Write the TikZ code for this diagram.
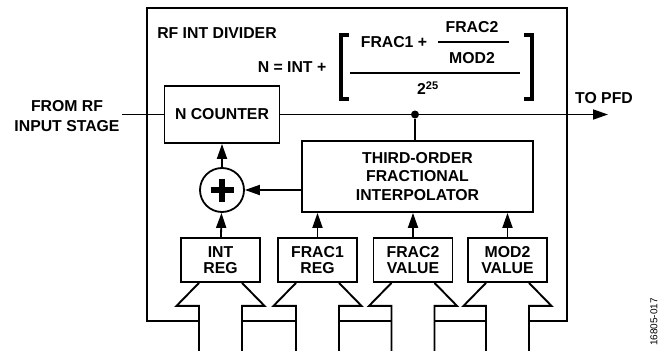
\documentclass[tikz,border=0pt]{standalone}
\usepackage{fontspec}
\setmainfont{Liberation Sans}
\usetikzlibrary{arrows.meta}
\tikzset{
every picture/.style={line width=1.8pt, >={Triangle[length=15pt,width=10pt]},
                       x=1pt, y=-1pt},
%%%%%%%%%%  Node styles
block/.style={draw, line width=1.8pt, inner sep=0pt, align=center,
              font=\bfseries\fontsize{15.8}{18.5}\selectfont},
regblock/.style={block, minimum width=79pt, minimum height=44pt,
                 font=\bfseries\fontsize{15.8}{15.3}\selectfont},
sumnode/.style={circle, draw, line width=1.8pt, minimum size=44pt, inner sep=0pt},
dotnode/.style={fill=black, circle, minimum size=8pt, inner sep=0pt},
txt/.style={inner sep=0pt, align=center,
            font=\bfseries\fontsize{15.8}{19.5}\selectfont},
%%%% different line styles:
outerframe/.style={line width=2.8pt},
bus/.style={line width=1.9pt, line join=miter},
bracket/.style={line width=3.6pt},
fracline/.style={line width=2.2pt}
}

\begin{document}
\begin{tikzpicture}
\useasboundingbox (0,0) rectangle (665,351);
%% outer frame, broken by the register buses
\draw[outerframe] (199,321) -- (147,321) -- (147,8) -- (567,8) -- (567,321) -- (529,321);
\foreach \a/\b in {242/296, 339/391.5, 434.5/486}
  \draw[outerframe] (\a,321) -- (\b,321);
\node[txt] (title) at (217,33) {RF INT DIVIDER};
%% formula
\node[txt] (neq) at (292,67) {N = INT +};
\draw[bracket] (349,35) -- (341,35) -- (341,99) -- (349,99);
\draw[bracket] (524,35) -- (532,35) -- (532,99) -- (524,99);
\node[txt] (frac1) at (394,42) {FRAC1 +};
\node[txt] (frac2) at (472,27) {FRAC2};
\draw[fracline] (438,42) -- (509,42);
\node[txt] (mod2) at (472,58) {MOD2};
\draw[fracline] (350,73) -- (520,73);
\node[txt] (pow) at (428,88) {2\textsuperscript{25}};
%% blocks
\node[block, minimum width=115pt, minimum height=57pt] (ncounter) at (222,114.5) {N COUNTER};
\node[block, minimum width=231pt, minimum height=71pt] (interp) at (417.5,176.5)
  {THIRD-ORDER\\FRACTIONAL\\INTERPOLATOR};
\node[sumnode] (adder) at (222,190) {};
\draw[line width=6pt] (adder) +(-11.5,0) -- +(11.5,0) +(0,-11.5) -- +(0,11.5);
\node[regblock] (intreg) at (220.5,260) {INT\\REG};
\node[regblock] (frac1reg) at (317.5,260) {FRAC1\\REG};
\node[regblock] (frac2val) at (413,260) {FRAC2\\VALUE};
\node[regblock] (mod2val) at (507.5,260) {MOD2\\VALUE};
\node[dotnode] (dot) at (415,114.5) {};
%% signal path
\node[txt] (rftext) at (67,116) {FROM RF\\INPUT STAGE};
\node[txt] (pfdtext) at (604,98) {TO PFD};
\coordinate (rfin) at (122,114.5);
\coordinate (pfd) at (608,114.5);
\draw (rfin) -- (ncounter.west);
\draw[->] (ncounter.east) -- (pfd);
\draw (dot) -- (dot |- interp.north);
\draw[->] (interp.west |- adder) -- (adder.east);
\draw[->] (adder) -- (ncounter);
\draw[->] (intreg) -- (adder);
\foreach \n in {frac1reg, frac2val, mod2val}
  \draw[->] (\n.north) -- (\n.north |- interp.south);
%% buses into the registers
\foreach \n in {intreg, frac1reg, frac2val, mod2val} {
  \draw[bus] (\n.south) ++(-21.5,0) -- ++(-22.5,23) -- ++(22.5,0) -- ++(0,50);
  \draw[bus] (\n.south) ++(21.5,0) -- ++(22.5,23) -- ++(-22.5,0) -- ++(0,50);
}
\node[rotate=90, inner sep=0pt, font=\fontsize{10}{12}\selectfont] (fignum) at (654,322) {16805-017};
\end{tikzpicture}
\end{document}
